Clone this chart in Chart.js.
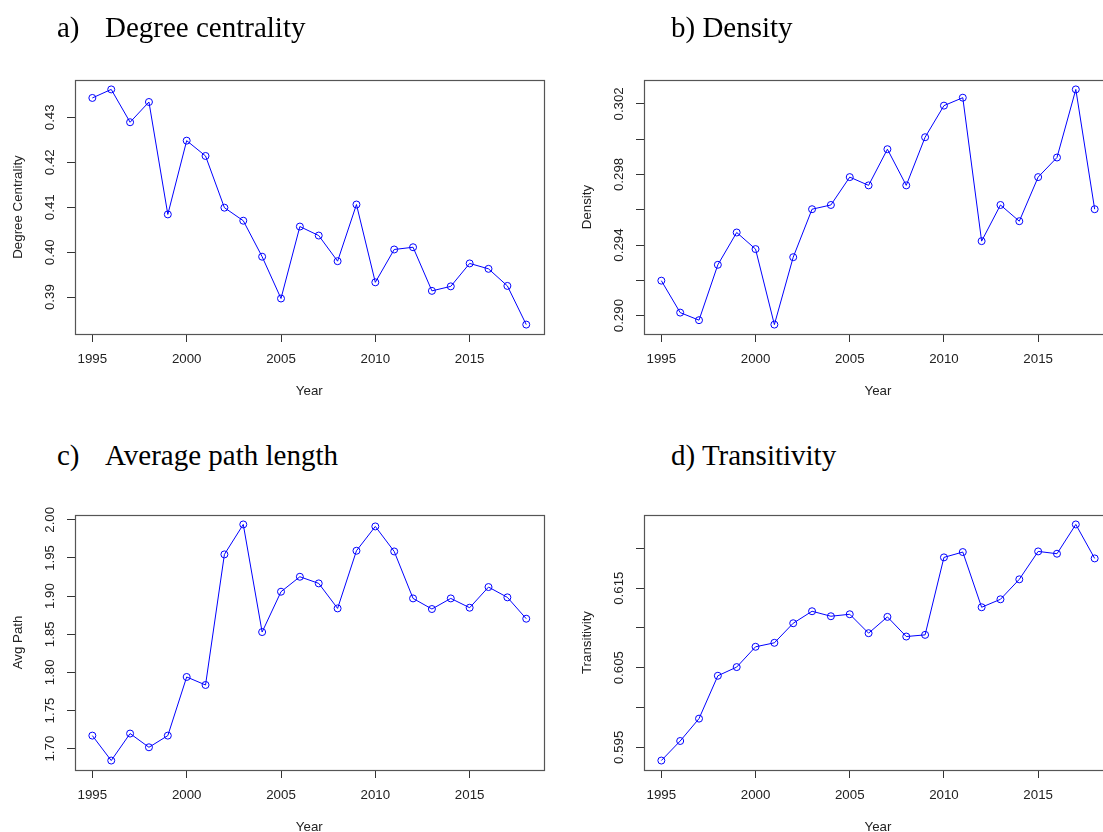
<!DOCTYPE html>
<html>
<head>
  <meta charset="utf-8" />
  <title>Network measures by year</title>
  <script src="https://cdn.jsdelivr.net/npm/chart.js@4.4.1/dist/chart.umd.min.js"></script>
  <style>
    html, body {
      margin: 0;
      width: 1103px;
      height: 832px;
      overflow: hidden;
      background: #fff;
    }
    canvas {
      position: absolute;
    }
    .ptitle {
      position: absolute;
      font-family: "Liberation Serif", "Times New Roman", serif;
      font-size: 29px;
      line-height: 29px;
      color: #000;
      white-space: nowrap;
      z-index: 2;
    }
  </style>
</head>
<body>
  <div class="ptitle" style="left:57px; top:13px">a)</div>
  <div class="ptitle" style="left:105px; top:13px">Degree centrality</div>
  <div class="ptitle" style="left:671px; top:13px">b) Density</div>
  <div class="ptitle" style="left:57px; top:441px">c)</div>
  <div class="ptitle" style="left:105px; top:441px">Average path length</div>
  <div class="ptitle" style="left:671px; top:441px">d) Transitivity</div>

  <canvas id="chartA" width="560" height="370" style="left:0px; top:40px"></canvas>
  <canvas id="chartB" width="570" height="370" style="left:560px; top:40px"></canvas>
  <canvas id="chartC" width="560" height="370" style="left:0px; top:475px"></canvas>
  <canvas id="chartD" width="570" height="370" style="left:560px; top:475px"></canvas>

  <script>
    // data
    const years = [1995, 1996, 1997, 1998, 1999, 2000, 2001, 2002, 2003, 2004, 2005, 2006,
                   2007, 2008, 2009, 2010, 2011, 2012, 2013, 2014, 2015, 2016, 2017, 2018];

    const degreeCentrality = [0.4343, 0.4362, 0.4289, 0.4334, 0.4084, 0.4248, 0.4214, 0.4099,
                              0.4070, 0.3990, 0.3897, 0.4057, 0.4037, 0.3980, 0.4106, 0.3933,
                              0.4006, 0.4011, 0.3914, 0.3924, 0.3975, 0.3963, 0.3925, 0.3839];

    const density = [0.29198, 0.29017, 0.28974, 0.29288, 0.29471, 0.29377, 0.28949, 0.29331,
                     0.29603, 0.29627, 0.29785, 0.29738, 0.29943, 0.29738, 0.30011, 0.30190,
                     0.30235, 0.29422, 0.29627, 0.29535, 0.29785, 0.29896, 0.30282, 0.29603];

    const avgPath = [1.7170, 1.6843, 1.7197, 1.7017, 1.7170, 1.7939, 1.7834, 1.9546,
                     1.9939, 1.8528, 1.9057, 1.9253, 1.9166, 1.8838, 1.9594, 1.9913,
                     1.9585, 1.8969, 1.8830, 1.8969, 1.8847, 1.9118, 1.8983, 1.8703];

    const transitivity = [0.59333, 0.59579, 0.59860, 0.60399, 0.60508, 0.60763, 0.60813, 0.61059,
                          0.61210, 0.61147, 0.61172, 0.60934, 0.61139, 0.60892, 0.60913, 0.61887,
                          0.61954, 0.61260, 0.61360, 0.61611, 0.61962, 0.61933, 0.62301, 0.61874];

    // tick values and their labels (R drops labels that would overlap)
    const yearTicks = [1995, 2000, 2005, 2010, 2015];
    const degreeTicks = [0.39, 0.40, 0.41, 0.42, 0.43];
    const degreeTickLabels = ['0.39', '0.40', '0.41', '0.42', '0.43'];
    const densityTicks = [0.290, 0.292, 0.294, 0.296, 0.298, 0.300, 0.302];
    const densityTickLabels = ['0.290', '', '0.294', '', '0.298', '', '0.302'];
    const pathTicks = [1.70, 1.75, 1.80, 1.85, 1.90, 1.95, 2.00];
    const pathTickLabels = ['1.70', '1.75', '1.80', '1.85', '1.90', '1.95', '2.00'];
    const transTicks = [0.595, 0.600, 0.605, 0.610, 0.615, 0.620];
    const transTickLabels = ['0.595', '', '0.605', '', '0.615', ''];

    Chart.defaults.font.family = '"Liberation Sans", Arial, sans-serif';
    Chart.defaults.font.size = 13.3;
    Chart.defaults.color = '#222';

    // R-style box around the plot region
    const boxPlugin = {
      id: 'rbox',
      afterDraw(chart) {
        const { ctx, chartArea: a } = chart;
        ctx.save();
        ctx.strokeStyle = '#555';
        ctx.lineWidth = 1.2;
        ctx.strokeRect(Math.round(a.left) + 0.5, Math.round(a.top) + 0.5,
                       Math.round(a.right - a.left), Math.round(a.bottom - a.top));
        ctx.restore();
      }
    };

    // R extends the axis range by 4% on each side
    function paddedRange(arr) {
      const lo = Math.min(...arr), hi = Math.max(...arr);
      const pad = (hi - lo) * 0.04;
      return [lo - pad, hi + pad];
    }

    function makeChart(id, opt) {
      const [ymin, ymax] = paddedRange(opt.values);
      const [xmin, xmax] = paddedRange(years);

      return new Chart(document.getElementById(id), {
        type: 'line',
        data: {
          datasets: [{
            data: years.map((yr, i) => ({ x: yr, y: opt.values[i] })),
            borderColor: '#0000ff',
            borderWidth: 1,
            pointStyle: 'circle',
            pointRadius: 3.5,
            pointBorderWidth: 1,
            pointBorderColor: '#0000ff',
            pointBackgroundColor: 'rgba(0,0,0,0)',
            tension: 0,
            clip: false
          }]
        },
        options: {
          responsive: false,
          animation: false,
          layout: { padding: { left: 0, top: 40, right: opt.rightPad, bottom: 0 } },
          plugins: {
            legend: { display: false },
            tooltip: { enabled: false }
          },
          scales: {
            x: {
              type: 'linear',
              min: xmin,
              max: xmax,
              afterFit: s => { s.height = opt.xHeight; },
              afterBuildTicks: s => { s.ticks = yearTicks.map(v => ({ value: v })); },
              grid: { drawOnChartArea: false, drawTicks: true, tickLength: 8, color: '#333' },
              border: { display: false },
              ticks: {
                autoSkip: false,
                maxRotation: 0,
                padding: 9,
                callback: v => String(v)
              },
              title: {
                display: true,
                text: 'Year',
                padding: { top: 0, bottom: opt.xTitlePad }
              }
            },
            y: {
              type: 'linear',
              min: ymin,
              max: ymax,
              afterFit: s => { s.width = opt.yWidth; },
              afterBuildTicks: s => { s.ticks = opt.ticks.map(v => ({ value: v })); },
              grid: { drawOnChartArea: false, drawTicks: true, tickLength: 8, color: '#333' },
              border: { display: false },
              ticks: {
                autoSkip: false,
                minRotation: 90,
                maxRotation: 90,
                crossAlign: 'center',
                padding: opt.yTickPad,
                callback: (v, i) => opt.tickLabels[i]
              },
              title: {
                display: true,
                text: opt.yTitle,
                padding: { top: opt.yTitlePad, bottom: 0 }
              }
            }
          }
        },
        plugins: [boxPlugin]
      });
    }

    makeChart('chartA', {
      values: degreeCentrality, ticks: degreeTicks, tickLabels: degreeTickLabels,
      yTitle: 'Degree Centrality', yWidth: 75, rightPad: 16.4, xHeight: 76,
      yTickPad: 3.4, yTitlePad: 10.6, xTitlePad: 11
    });

    // right-hand panels run past the edge of the page, as in the original figure
    makeChart('chartB', {
      values: density, ticks: densityTicks, tickLabels: densityTickLabels,
      yTitle: 'Density', yWidth: 84, rightPad: 18, xHeight: 76,
      yTickPad: 0, yTitlePad: 19, xTitlePad: 11
    });

    makeChart('chartC', {
      values: avgPath, ticks: pathTicks, tickLabels: pathTickLabels,
      yTitle: 'Avg Path', yWidth: 75, rightPad: 16.4, xHeight: 75,
      yTickPad: 3.4, yTitlePad: 10.6, xTitlePad: 10
    });

    makeChart('chartD', {
      values: transitivity, ticks: transTicks, tickLabels: transTickLabels,
      yTitle: 'Transitivity', yWidth: 84, rightPad: 18, xHeight: 75,
      yTickPad: 0, yTitlePad: 19.5, xTitlePad: 10
    });
  </script>
</body>
</html>
